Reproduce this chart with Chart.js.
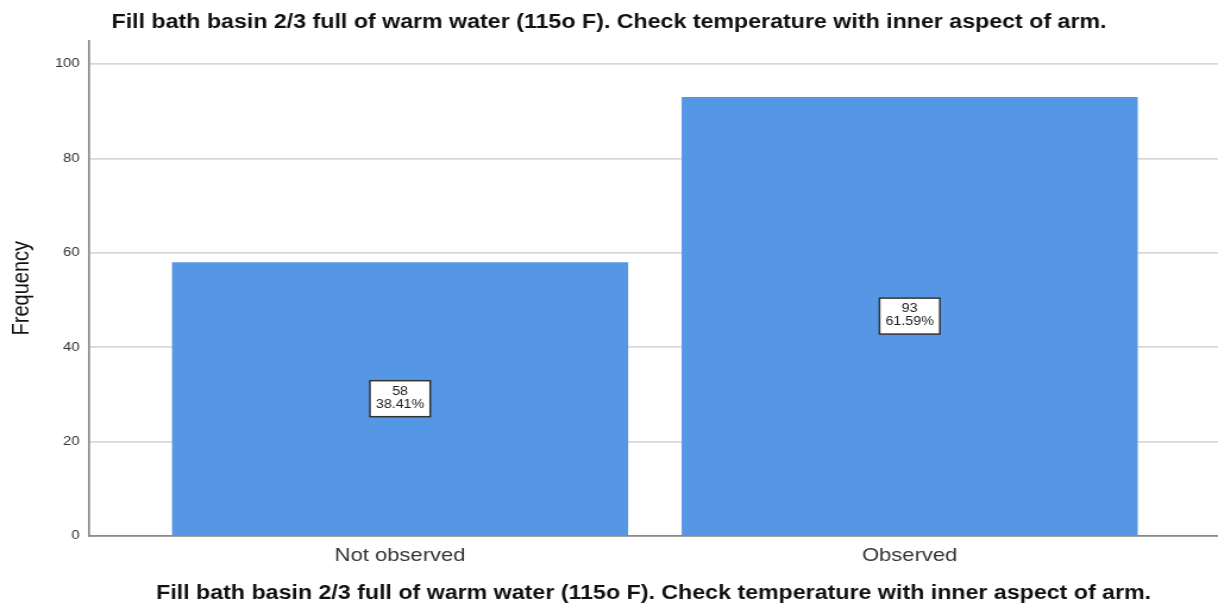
<!DOCTYPE html>
<html>
<head>
<meta charset="utf-8">
<script src="https://cdn.jsdelivr.net/npm/chart.js@4"></script>
<style>
  html, body { margin: 0; padding: 0; background: #fff; overflow: hidden; }
  /* the source picture is stretched sideways, so the canvas is drawn narrower and widened */
  #freqChart { display: block; width: 1218px !important; height: 607px !important; }
</style>
</head>
<body>
<canvas id="freqChart" width="1024" height="607"></canvas>
<script>
var chartTitle = 'Fill bath basin 2/3 full of warm water (115o F). Check temperature with inner aspect of arm.';
var categories = ['Not observed', 'Observed'];
var frequencies = [58, 93];
var percents = ['38.41%', '61.59%'];
var yTicks = [0, 20, 40, 60, 80, 100];

var barColor = '#5596e5';
var fontFam = '"Liberation Sans", Arial, sans-serif';

// white boxes with count + percent, halfway up each bar
var boxLabels = {
    id: 'boxLabels',
    afterDatasetsDraw: function(chart){
        var ctx = chart.ctx;
        var meta = chart.getDatasetMeta(0);
        ctx.save();
        ctx.font = '12px ' + fontFam;
        ctx.textAlign = 'center';
        ctx.textBaseline = 'middle';
        meta.data.forEach(function(bar, i){
            var cx = bar.x;
            var cy = (bar.y + bar.base) / 2;
            var l1 = String(frequencies[i]);
            var l2 = percents[i];
            var w = Math.max(ctx.measureText(l1).width, ctx.measureText(l2).width) + 10;
            var h = 36;
            ctx.fillStyle = '#fff';
            ctx.fillRect(cx - w / 2, cy - h / 2, w, h);
            ctx.strokeStyle = '#333';
            ctx.lineWidth = 1.5;
            ctx.strokeRect(cx - w / 2, cy - h / 2, w, h);
            ctx.fillStyle = '#222';
            ctx.fillText(l1, cx, cy - 7);
            ctx.fillText(l2, cx, cy + 6);
        });
        ctx.restore();
    }
};

var points = frequencies.map(function(v, i){ return {x: i, y: v}; });

new Chart(document.getElementById('freqChart'), {
    type: 'bar',
    data: {
        datasets: [{
            data: points,
            backgroundColor: barColor,
            borderWidth: 0,
            categoryPercentage: 1,
            barPercentage: 0.895
        }]
    },
    options: {
        responsive: false,
        animation: false,
        layout: { padding: { left: 0, right: 0, top: 0, bottom: 2 } },
        plugins: {
            legend: { display: false },
            tooltip: { enabled: false },
            title: {
                display: true,
                text: chartTitle,
                color: '#111',
                font: { family: fontFam, size: 19.5, weight: 'bold' },
                padding: { top: 11, bottom: 6 }
            }
        },
        scales: {
            x: {
                type: 'linear',
                offset: false,
                min: -0.61,
                max: 1.605,
                afterBuildTicks: function(scale){
                    scale.ticks = categories.map(function(c, i){ return {value: i}; });
                },
                afterFit: function(scale){ scale.height = 69; },
                ticks: {
                    callback: function(v){ return categories[v]; },
                    color: '#333',
                    font: { family: fontFam, size: 18.5 },
                    padding: 9,
                    maxRotation: 0,
                    autoSkip: false
                },
                grid: { display: false, drawTicks: false },
                border: { color: '#8a8a8a', width: 1.7 },
                title: {
                    display: true,
                    text: chartTitle,
                    color: '#111',
                    font: { family: fontFam, size: 19.5, weight: 'bold' },
                    padding: { top: 12, bottom: 0 }
                }
            },
            y: {
                min: 0,
                max: 105,
                afterBuildTicks: function(scale){
                    scale.ticks = yTicks.map(function(v){ return {value: v}; });
                },
                afterFit: function(scale){ scale.width = 75; },
                ticks: {
                    color: '#333',
                    font: { family: fontFam, size: 12.5 },
                    padding: 8
                },
                grid: { color: '#d8d8d8', lineWidth: 1.7, drawTicks: false },
                border: { color: '#8a8a8a', width: 1.7 },
                title: {
                    display: true,
                    text: 'Frequency',
                    color: '#111',
                    font: { family: fontFam, size: 20 },
                    padding: { top: 6, bottom: 0 }
                }
            }
        }
    },
    plugins: [boxLabels]
});
</script>
</body>
</html>
